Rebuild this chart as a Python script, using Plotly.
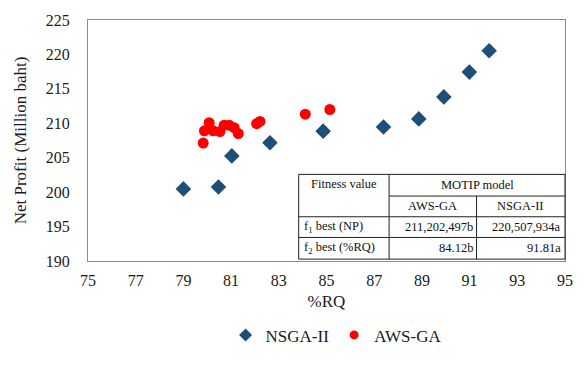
import plotly.graph_objects as go

# ---- data ----
nsga_rq = [79.0, 80.47, 81.03, 82.63, 84.86, 87.39, 88.87, 89.92, 90.99, 91.82]
nsga_np = [200.47, 200.74, 205.26, 207.17, 208.86, 209.45, 210.64, 213.83, 217.43, 220.53]
aws_rq = [79.83, 79.88, 80.08, 80.25, 80.53, 80.71, 80.92, 81.13, 81.3, 82.07, 82.21, 84.11, 85.14]
aws_np = [207.12, 208.9, 210.09, 208.9, 208.8, 209.72, 209.72, 209.36, 208.5, 209.95, 210.27, 211.32, 212.0]

x_ticks = [75, 77, 79, 81, 83, 85, 87, 89, 91, 93, 95]
y_ticks = [190, 195, 200, 205, 210, 215, 220, 225]

table_header1 = ["Fitness value", "MOTIP model"]
table_header2 = ["AWS-GA", "NSGA-II"]
table_rows = [
    ["f<sub>1</sub> best (NP)", "211,202,497b", "220,507,934a"],
    ["f<sub>2</sub> best (%RQ)", "84.12b", "91.81a"],
]

FONT = "Liberation Serif"
W, H = 585, 365
L, R, T, B = 88, 17, 15, 94
PW, PH = W - L - R, H - T - B
BLUE, RED = "#1f4e79", "#ff0000"


def px(x):
    return (x - L) / PW


def py(y):
    return (H - B - y) / PH


fig = go.Figure()
fig.add_trace(go.Scatter(
    x=nsga_rq, y=nsga_np, mode="markers", name="NSGA-II", showlegend=False,
    marker=dict(symbol="diamond", size=12, color=BLUE),
))
fig.add_trace(go.Scatter(
    x=aws_rq, y=aws_np, mode="markers", name="AWS-GA", showlegend=False,
    marker=dict(symbol="circle", size=11, color=RED),
))
# legend entries with smaller markers (as in the reference)
fig.add_trace(go.Scatter(x=[None], y=[None], mode="markers", name="NSGA-II",
                         marker=dict(symbol="diamond", size=10, color=BLUE)))
fig.add_trace(go.Scatter(x=[None], y=[None], mode="markers", name="AWS-GA",
                         marker=dict(symbol="circle", size=9, color=RED)))

# ---- table drawn as shapes + annotations ----
tx0, tx1, tx2, tx3 = 300, 391, 479, 568
ty0, ty1, ty2, ty3, ty4 = 179, 202, 224, 246, 269
lc = "#222222"
shapes = [
    dict(type="rect", xref="paper", yref="paper", x0=px(tx0), x1=px(tx3), y0=py(ty4), y1=py(ty0),
         fillcolor="white", line=dict(color=lc, width=1), layer="above"),
    dict(type="line", xref="paper", yref="paper", x0=px(tx1), x1=px(tx3), y0=py(ty1), y1=py(ty1),
         line=dict(color=lc, width=1), layer="above"),
    dict(type="line", xref="paper", yref="paper", x0=px(tx0), x1=px(tx3), y0=py(ty2), y1=py(ty2),
         line=dict(color=lc, width=1), layer="above"),
    dict(type="line", xref="paper", yref="paper", x0=px(tx0), x1=px(tx3), y0=py(ty3), y1=py(ty3),
         line=dict(color=lc, width=1), layer="above"),
    dict(type="line", xref="paper", yref="paper", x0=px(tx1), x1=px(tx1), y0=py(ty4), y1=py(ty0),
         line=dict(color=lc, width=1), layer="above"),
    dict(type="line", xref="paper", yref="paper", x0=px(tx2), x1=px(tx2), y0=py(ty4), y1=py(ty1),
         line=dict(color=lc, width=1), layer="above"),
]

tfont = dict(family=FONT, size=12.5, color="#111111")
ann = []


def add_text(text, x, y, xanchor="center"):
    ann.append(dict(text=text, x=px(x), y=py(y), xref="paper", yref="paper",
                    xanchor=xanchor, yanchor="middle", showarrow=False, font=tfont))


add_text(table_header1[0], (tx0 + tx1) / 2, 189)
add_text(table_header1[1], (tx1 + tx3) / 2, 190)
add_text(table_header2[0], (tx1 + tx2) / 2, 213)
add_text(table_header2[1], (tx2 + tx3) / 2, 213)
for i, row in enumerate(table_rows):
    yc = [235, 257.5][i]
    add_text(row[0], tx0 + 3, yc, "left")
    add_text(row[1], tx2 - 2, yc, "right")
    add_text(row[2], tx3 - 2, yc, "right")

axis_common = dict(
    showgrid=False, zeroline=False, showline=True, linecolor="#8c8c8c", linewidth=1,
    mirror=True, ticks="outside", tickcolor="rgba(0,0,0,0)",
    tickfont=dict(family=FONT, size=16, color="#1a1a1a"),
)

fig.update_layout(
    width=W, height=H,
    margin=dict(l=L, r=R, t=T, b=B, pad=0),
    paper_bgcolor="white", plot_bgcolor="white",
    xaxis=dict(range=[75, 95], tickvals=x_ticks, ticklen=5,
               title=dict(text="%RQ", font=dict(family=FONT, size=17, color="#1a1a1a"), standoff=6),
               **axis_common),
    yaxis=dict(range=[190, 225], tickvals=y_ticks, ticklen=14,
               title=dict(text="Net Profit (Million baht)", font=dict(family=FONT, size=17, color="#1a1a1a"), standoff=14),
               **axis_common),
    showlegend=True,
    legend=dict(orientation="h", x=0.52, xanchor="center", y=py(350), yanchor="middle",
                font=dict(family=FONT, size=17, color="#1a1a1a"), itemwidth=30,
                bgcolor="rgba(0,0,0,0)"),
    shapes=shapes,
    annotations=ann,
)

fig.write_html("out.html")
